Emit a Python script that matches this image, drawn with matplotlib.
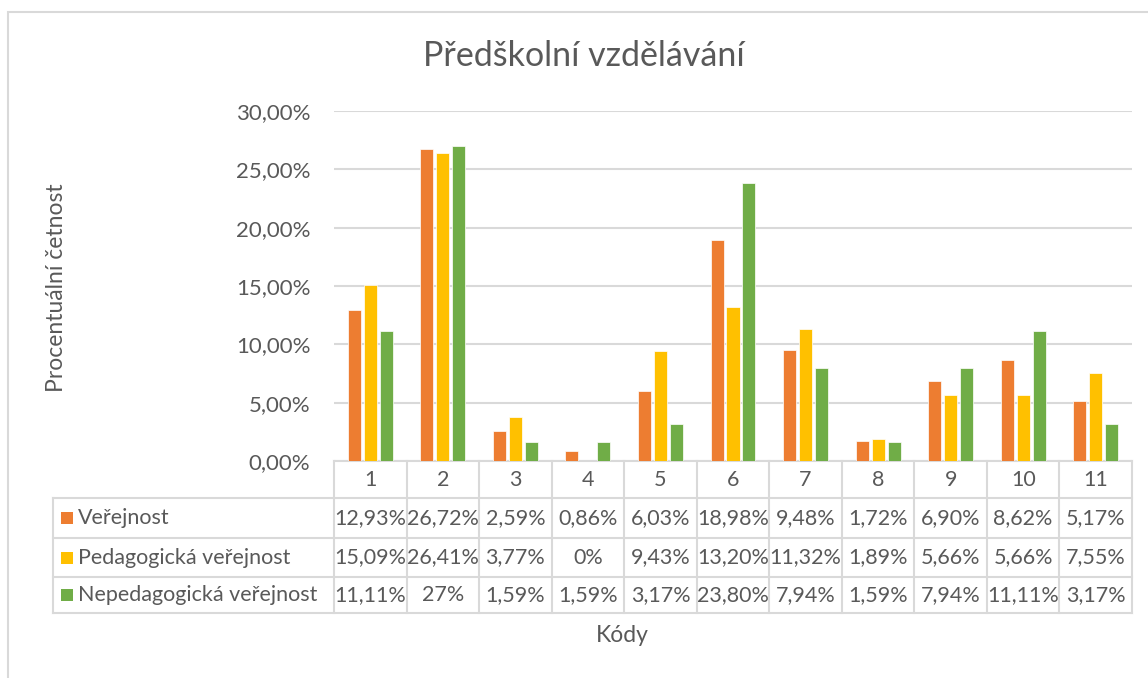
import matplotlib
matplotlib.use("Agg")
import matplotlib.pyplot as plt
from matplotlib.transforms import blended_transform_factory
from matplotlib.patches import Rectangle
from matplotlib.lines import Line2D

# ---------------- data ----------------
categories = ["1", "2", "3", "4", "5", "6", "7", "8", "9", "10", "11"]
series_names = ["Veřejnost", "Pedagogická veřejnost", "Nepedagogická veřejnost"]
verejnost = [12.93, 26.72, 2.59, 0.86, 6.03, 18.98, 9.48, 1.72, 6.90, 8.62, 5.17]
pedagogicka = [15.09, 26.41, 3.77, 0, 9.43, 13.20, 11.32, 1.89, 5.66, 5.66, 7.55]
nepedagogicka = [11.11, 27, 1.59, 1.59, 3.17, 23.80, 7.94, 1.59, 7.94, 11.11, 3.17]
y_ticks = [0, 5, 10, 15, 20, 25, 30]
title = "Předškolní vzdělávání"
y_label = "Procentuální četnost"
x_label = "Kódy"

colors = ["#ED7D31", "#FFC000", "#70AD47"]
text_color = "#595959"
grid_color = "#D9D9D9"

plt.rcParams["font.family"] = ["Lato", "DejaVu Sans"]

W, H = 1148, 678
fig = plt.figure(figsize=(W / 100, H / 100), dpi=100)


def fx(px):
    return px / W


def fy(py):
    return 1 - py / H


# chart border
fig.add_artist(Rectangle((fx(8), fy(700)), fx(1200), fy(12) - fy(700),
                         transform=fig.transFigure, fill=False,
                         edgecolor="#D9D9D9", linewidth=1.5))

left, right, top, bottom = 334, 1132, 111, 461
ax = fig.add_axes([fx(left), fy(bottom), fx(right - left), fy(top) - fy(bottom)])

n = len(categories)
xs = list(range(1, n + 1))
all_series = [verejnost, pedagogicka, nepedagogicka]
offsets = [-0.22, 0.0, 0.22]
bw = 0.18
for vals, off, c in zip(all_series, offsets, colors):
    ax.bar([x + off for x in xs], vals, width=bw, color=c, zorder=3,
           edgecolor="white", linewidth=0.5)

ax.set_xlim(0.5, n + 0.5)
ax.set_ylim(0, 30)
ax.set_yticks(y_ticks)
ax.set_yticklabels([f"{t:.2f}".replace(".", ",") + "%" for t in y_ticks],
                   color=text_color, fontsize=16)
ax.tick_params(axis="y", length=0, pad=17)
ax.set_xticks([])
ax.grid(axis="y", color=grid_color, linewidth=1.5, zorder=0)
for s in ["top", "right", "left"]:
    ax.spines[s].set_visible(False)
ax.spines["bottom"].set_color(grid_color)
ax.spines["bottom"].set_linewidth(1.5)

# ---------------- data table ----------------
tr = blended_transform_factory(ax.transData, fig.transFigure)
row_y = [461, 498, 538, 577, 613]  # header, row1, row2, row3, bottom
lw = 1.5
fs_tab = 15.5
for i, yy in enumerate(row_y):
    if i == 0:
        continue
    fig.add_artist(Line2D([fx(53), fx(right)], [fy(yy), fy(yy)],
                          transform=fig.transFigure, color=grid_color, lw=lw))
for k in range(n + 1):
    xe = 0.5 + k
    fig.add_artist(Line2D([xe, xe], [fy(461), fy(613)], transform=tr,
                          color=grid_color, lw=lw))
fig.add_artist(Line2D([fx(53), fx(53)], [fy(498), fy(613)],
                      transform=fig.transFigure, color=grid_color, lw=lw))

hy = (row_y[0] + row_y[1]) / 2
for x, cat in zip(xs, categories):
    fig.text(x, fy(hy), cat, transform=tr, ha="center", va="center",
             color=text_color, fontsize=fs_tab)


def fmt(v):
    if float(v).is_integer():
        return f"{int(v)}%"
    return f"{v:.2f}".replace(".", ",") + "%"


for r, (name, vals, c) in enumerate(zip(series_names, all_series, colors)):
    cy = (row_y[r + 1] + row_y[r + 2]) / 2
    fig.add_artist(Rectangle((fx(61), fy(cy + 6)), fx(12), fy(cy - 6) - fy(cy + 6),
                             transform=fig.transFigure, facecolor=c,
                             edgecolor="none"))
    fig.text(fx(78), fy(cy), name, ha="left", va="center",
             color=text_color, fontsize=fs_tab)
    for x, v in zip(xs, vals):
        fig.text(x, fy(cy), fmt(v), transform=tr, ha="center", va="center",
                 color=text_color, fontsize=fs_tab)

# titles
fig.text(fx(584), fy(56), title, ha="center", va="center",
         color=text_color, fontsize=24.5)
fig.text(fx(57), fy(288), y_label, ha="center", va="center", rotation=90,
         color=text_color, fontsize=16.5)
fig.text(fx(622), fy(635), x_label, ha="center", va="center",
         color=text_color, fontsize=16.5)

fig.savefig("out.png", dpi=100)
